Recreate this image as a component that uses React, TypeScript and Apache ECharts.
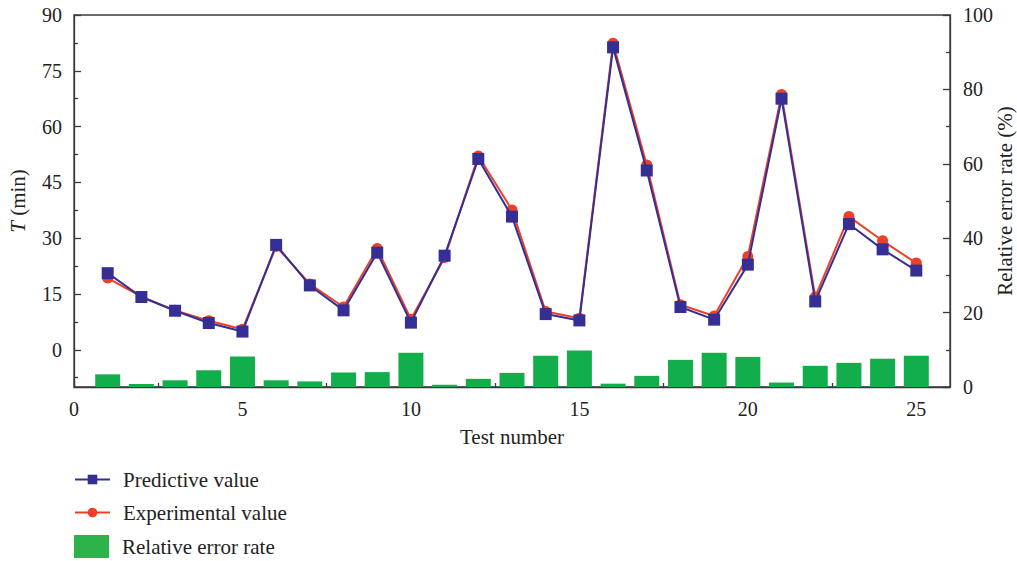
import React, { useEffect, useRef } from "react";
import * as echarts from "echarts";

const testNumbers = [1, 2, 3, 4, 5, 6, 7, 8, 9, 10, 11, 12, 13, 14, 15, 16, 17, 18, 19, 20, 21, 22, 23, 24, 25];
const predictive = [20.6, 14.2, 10.5, 7.2, 4.9, 28.2, 17.3, 10.6, 26.1, 7.3, 25.3, 51.3, 35.8, 9.6, 7.9, 81.3, 48.2, 11.5, 8.1, 22.9, 67.5, 13.0, 33.8, 27.0, 21.3];
const experimental = [19.3, 14.3, 10.6, 7.8, 5.5, 27.8, 17.7, 11.5, 27.2, 8.2, 24.8, 52.1, 37.6, 10.3, 8.5, 82.4, 49.7, 12.1, 9.1, 25.1, 68.6, 14.2, 35.8, 29.3, 23.3];
const errorRate = [3.4, 0.8, 1.8, 4.5, 8.2, 1.8, 1.5, 3.9, 4.0, 9.2, 0.6, 2.2, 3.8, 8.4, 9.8, 0.9, 3.0, 7.3, 9.2, 8.1, 1.2, 5.7, 6.5, 7.6, 8.4];

const leftTicks = [0, 15, 30, 45, 60, 75, 90];
const leftMinorTicks = [-7.5, 7.5, 22.5, 37.5, 52.5, 67.5, 82.5];
const xTicks = [0, 5, 10, 15, 20, 25];
const xMinorTicks = [2.5, 7.5, 12.5, 17.5, 22.5];

const FONT = "Liberation Serif";
const AXIS = "#3a3a3a";

export default function App() {
  const ref = useRef<HTMLDivElement>(null);
  useEffect(() => {
    document.body.style.margin = "0";
    if (!ref.current) return;
    const chart = echarts.init(ref.current, null, { renderer: "svg" });
    const pair = (ys: number[]) => testNumbers.map((x, i) => [x, ys[i]]);
    const tickFont = { fontFamily: FONT, fontSize: 20, color: "#222" };
    const nameFont = { fontFamily: FONT, fontSize: 21, color: "#222" };
    const axisLine = { show: true, onZero: false, lineStyle: { color: AXIS, width: 1.3 } };
    chart.setOption({
      animation: false,
      backgroundColor: "#fff",
      textStyle: { fontFamily: FONT },
      grid: {
        left: 74,
        right: 67,
        top: 15,
        bottom: 174,
        outerBoundsMode: "none",
        containLabel: false,
        show: true,
        borderColor: AXIS,
        borderWidth: 1.3,
        backgroundColor: "transparent",
      },
      legend: [
        {
          orient: "vertical",
          left: 74,
          top: 469,
          padding: 0,
          itemWidth: 35,
          itemHeight: 12,
          itemGap: 12,
          textStyle: { ...nameFont, padding: [0, 0, 0, 8] },
          data: ["Predictive value", "Experimental value"],
        },
        {
          orient: "vertical",
          left: 74,
          top: 535,
          padding: 0,
          itemWidth: 35,
          itemHeight: 23,
          textStyle: { ...nameFont, padding: [0, 0, 0, 8] },
          data: [{ name: "Relative error rate", icon: "rect", itemStyle: { color: "#2DB34A" } }],
        },
      ],
      xAxis: [
        {
          type: "value",
          min: 0,
          max: 26,
          name: "Test number",
          nameLocation: "middle",
          nameGap: 39,
          nameTextStyle: nameFont,
          axisLine,
          axisTick: { inside: true, length: 7, customValues: xTicks, lineStyle: { color: AXIS, width: 1.3 } },
          axisLabel: { ...tickFont, margin: 12, customValues: xTicks },
          splitLine: { show: false },
        },
        {
          type: "value",
          min: 0,
          max: 26,
          position: "bottom",
          axisLine: { show: false, onZero: false },
          axisTick: { inside: true, length: 4, customValues: xMinorTicks, lineStyle: { color: AXIS, width: 1.3 } },
          axisLabel: { show: false },
          splitLine: { show: false },
        },
      ],
      yAxis: [
        {
          type: "value",
          min: -10,
          max: 90,
          name: "{i|T} (min)",
          nameLocation: "middle",
          nameGap: 46,
          nameTextStyle: { ...nameFont, rich: { i: { ...nameFont, fontStyle: "italic" } } },
          axisLine,
          axisTick: { inside: true, length: 7, customValues: leftTicks, lineStyle: { color: AXIS, width: 1.3 } },
          axisLabel: { ...tickFont, margin: 12, customValues: leftTicks },
          splitLine: { show: false },
        },
        {
          type: "value",
          min: 0,
          max: 100,
          interval: 20,
          position: "right",
          name: "Relative error rate (%)",
          nameLocation: "middle",
          nameRotate: 90,
          nameGap: 44,
          nameMoveOverlap: false,
          nameTextStyle: nameFont,
          axisLine,
          axisTick: { inside: true, length: 7, lineStyle: { color: AXIS, width: 1.3 } },
          minorTick: { show: true, splitNumber: 2, length: 4, lineStyle: { color: AXIS, width: 1.3 } },
          axisLabel: { ...tickFont, margin: 13 },
          splitLine: { show: false },
        },
        {
          type: "value",
          min: -10,
          max: 90,
          position: "left",
          axisLine: { show: false, onZero: false },
          axisTick: { inside: true, length: 4, customValues: leftMinorTicks, lineStyle: { color: AXIS, width: 1.3 } },
          axisLabel: { show: false },
          splitLine: { show: false },
        },
      ],
      series: [
        {
          name: "Relative error rate",
          type: "bar",
          yAxisIndex: 1,
          barWidth: 25,
          itemStyle: { color: "#12AE4B" },
          data: pair(errorRate),
          z: 1,
        },
        {
          name: "Experimental value",
          type: "line",
          yAxisIndex: 0,
          symbol: "circle",
          symbolSize: 11,
          itemStyle: { color: "#EE4027" },
          lineStyle: { color: "#EE4027", width: 2 },
          data: pair(experimental),
          z: 3,
        },
        {
          name: "Predictive value",
          type: "line",
          yAxisIndex: 0,
          symbol: "rect",
          symbolSize: 12,
          itemStyle: { color: "#352F95" },
          lineStyle: { color: "#352F95", width: 2 },
          data: pair(predictive),
          z: 4,
        },
      ],
    });
    return () => chart.dispose();
  }, []);
  return <div ref={ref} style={{ width: 1017, height: 561 }} />;
}
